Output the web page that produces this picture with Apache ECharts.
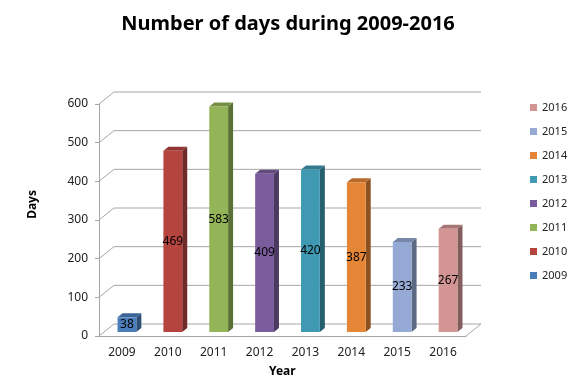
<!DOCTYPE html>
<html><head><meta charset="utf-8">
<script src="https://cdn.jsdelivr.net/npm/echarts/dist/echarts.min.js"></script>
<style>html,body{margin:0;padding:0;background:#fff}#c{width:576px;height:384px}</style>
</head><body><div id="c"></div>
<script>
const categories = ['2009','2010','2011','2012','2013','2014','2015','2016'];
const values = [38, 469, 583, 409, 420, 387, 233, 267];
const yTicks = [0, 100, 200, 300, 400, 500, 600];
const colors = ['#4A7EBB','#B5443F','#93B457','#7A5C9C','#4099B2','#E58536','#94A9D4','#D39494'];
const legendOrder = ['2016','2015','2014','2013','2012','2011','2010','2009'];

const DX = 15, DY = -12;       // depth of the 3D floor
const FONT = '"Noto Sans", "DejaVu Sans", sans-serif';

function shade(hex, f) {
  const n = parseInt(hex.slice(1), 16);
  const r = Math.round(((n >> 16) & 255) * f), g = Math.round(((n >> 8) & 255) * f), b = Math.round((n & 255) * f);
  return 'rgb(' + r + ',' + g + ',' + b + ')';
}

function gridRender(params, api) {
  const cs = params.coordSys;
  const t = api.value(1);
  const y = api.coord([0, t])[1];
  const xl = cs.x, xr = cs.x + cs.width;
  const st = { stroke: '#A6A6A6', lineWidth: 1, fill: null };
  const children = [{
    type: 'polyline', silent: true,
    shape: { points: [[xl, y], [xl + DX, y + DY], [xr + DX, y + DY]] },
    style: st
  }];
  if (t === 0) {
    children.push({ type: 'line', silent: true, shape: { x1: xr, y1: y, x2: xr + DX, y2: y + DY }, style: st });
  }
  return { type: 'group', children: children };
}

function barRender(color) {
  return function (params, api) {
    const i = api.value(0), v = api.value(1);
    const base = api.coord([i, 0]);
    const top = api.coord([i, v]);
    const band = api.size([1, 0])[0];
    const w = band * 0.41;
    const ox = DX / 3, oy = DY / 3, dx = DX / 3, dy = DY / 3;
    const x0 = base[0] - w / 2 + ox, x1 = x0 + w;
    const yb = base[1] + oy, yt = top[1] + oy;
    return {
      type: 'group',
      children: [
        { type: 'polygon', shape: { points: [[x1, yt], [x1 + dx, yt + dy], [x1 + dx, yb + dy], [x1, yb]] }, style: { fill: shade(color, 0.62) } },
        { type: 'polygon', shape: { points: [[x0, yt], [x1, yt], [x1 + dx, yt + dy], [x0 + dx, yt + dy]] }, style: { fill: shade(color, 0.8) } },
        { type: 'rect', shape: { x: x0, y: yt, width: w, height: yb - yt }, style: { fill: color } },
        { type: 'text', style: { x: (x0 + x1) / 2, y: (yb + yt) / 2, text: String(v), align: 'center', verticalAlign: 'middle', fontSize: 12, fontFamily: FONT, fill: '#000' } }
      ]
    };
  };
}

const series = [{
  name: 'grid', type: 'custom', clip: false, silent: true, z: 1,
  renderItem: gridRender,
  data: yTicks.map(t => [0, t])
}];
categories.forEach((c, i) => {
  series.push({
    name: c, type: 'custom', clip: false, z: 2,
    itemStyle: { color: colors[i] },
    renderItem: barRender(colors[i]),
    data: [[i, values[i]]]
  });
});

const chart = echarts.init(document.getElementById('c'));
chart.setOption({
  animation: false,
  backgroundColor: '#fff',
  title: {
    text: 'Number of days during 2009-2016', left: 'center', top: 9,
    textStyle: { fontFamily: FONT, fontSize: 20, fontWeight: 'bold', color: '#000' }
  },
  legend: {
    orient: 'vertical', left: 525, top: 97,
    itemWidth: 7, itemHeight: 7, itemGap: 13,
    icon: 'rect',
    data: legendOrder,
    textStyle: { fontFamily: FONT, fontSize: 11, color: '#222' },
    selectedMode: false
  },
  grid: { left: 99, right: 110, top: 104, bottom: 48 },
  xAxis: {
    type: 'category', data: categories,
    axisLine: { lineStyle: { color: '#A6A6A6' } },
    axisTick: { length: 4, lineStyle: { color: '#A6A6A6' } },
    axisLabel: { margin: 11, fontFamily: FONT, fontSize: 12, color: '#222' }
  },
  yAxis: {
    type: 'value', min: 0, max: 600, interval: 100,
    axisLine: { show: true, lineStyle: { color: '#A6A6A6' } },
    axisTick: { show: true, length: 4, lineStyle: { color: '#A6A6A6' } },
    axisLabel: { margin: 11, fontFamily: FONT, fontSize: 12, color: '#222' },
    splitLine: { show: false }
  },
  graphic: [
    { type: 'text', left: 27, top: 190, rotation: Math.PI / 2, style: { text: 'Days', fontFamily: FONT, fontSize: 12, fontWeight: 'bold', fill: '#000' } },
    { type: 'text', left: 269, top: 366, style: { text: 'Year', fontFamily: FONT, fontSize: 12, fontWeight: 'bold', fill: '#000' } }
  ],
  series: series
});
</script>
</body></html>
